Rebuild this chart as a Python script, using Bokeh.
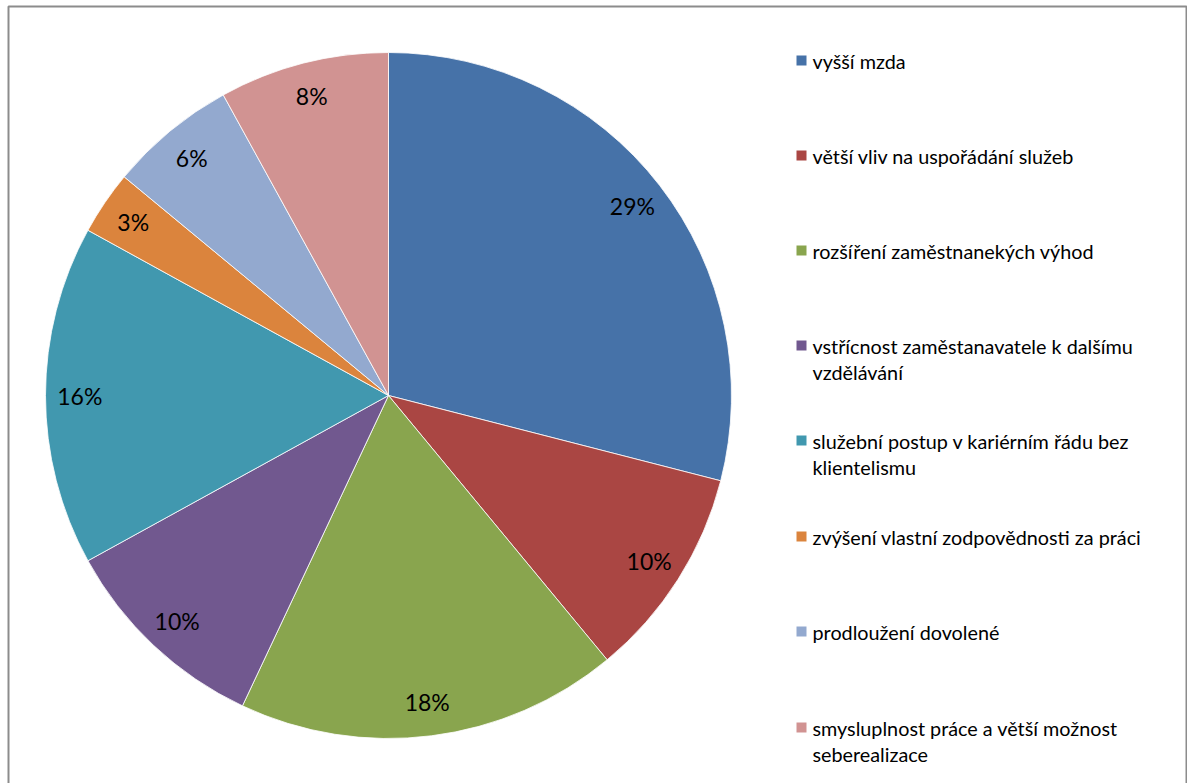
import math

from bokeh.core.properties import value
from bokeh.embed import file_html
from bokeh.models import ColumnDataSource, Range1d
from bokeh.plotting import figure
from bokeh.resources import INLINE

# Survey answers and their shares (percent)
categories = [
    "vyšší mzda",
    "větší vliv na uspořádání služeb",
    "rozšíření zaměstnanekých výhod",
    "vstřícnost zaměstanavatele k dalšímu\nvzdělávání",
    "služební postup v kariérním řádu bez\nklientelismu",
    "zvýšení vlastní zodpovědnosti za práci",
    "prodloužení dovolené",
    "smysluplnost práce a větší možnost\nseberealizace",
]
shares = [29, 10, 18, 10, 16, 3, 6, 8]
colors = ["#4672A8", "#AA4643", "#89A54E", "#71588F",
          "#4198AF", "#DB843D", "#93A9CF", "#D19392"]

W, H = 1187, 783
FONT = "Lato"

# pie geometry in page pixels (y measured from the top)
CX, CY, R = 388, 395, 343
LABEL_R = 0.9 * R

# legend layout (y of each marker centre, from the top)
LEG_SQ_X = 801
LEG_TEXT_X = 812
LEG_Y = [60, 155, 250, 345, 440, 536, 631, 727]
LINE_STEP = 26
BASE_SHIFT = 0


def sy(y):
    return H - y


total = float(sum(shares))
starts, ends, cum = [], [], 0.0
for v in shares:
    starts.append(math.pi / 2 - 2 * math.pi * cum / total)
    cum += v
    ends.append(math.pi / 2 - 2 * math.pi * cum / total)

mids = [(a + b) / 2 for a, b in zip(starts, ends)]
slices = ColumnDataSource(dict(
    start=starts, end=ends, color=colors,
    lx=[CX + LABEL_R * math.cos(m) for m in mids],
    ly=[sy(CY) + LABEL_R * math.sin(m) for m in mids],
    label=[f"{v}%" for v in shares],
))

p = figure(width=W, height=H, x_range=Range1d(0, W), y_range=Range1d(0, H),
           min_border=0, toolbar_location=None, output_backend="svg",
           x_axis_location=None, y_axis_location=None,
           outline_line_color=None, background_fill_color="white",
           border_fill_color="white")
p.grid.visible = False

# chart frame
p.quad(left=8, right=1186, top=sy(6), bottom=-20, fill_color=None,
       line_color="#8c8c8c", line_width=2)

p.wedge(x=CX, y=sy(CY), radius=R, start_angle="start", end_angle="end",
        direction="clock", fill_color="color", line_color="white",
        line_width=1, line_alpha=0.8, source=slices)

p.text(x="lx", y="ly", text="label", source=slices,
       text_font=value(FONT), text_font_size="23px", text_color="black",
       text_align="center", text_baseline="middle")

# legend
sq_y, tx, ty, tt = [], [], [], []
for cat, yc in zip(categories, LEG_Y):
    sq_y.append(sy(yc))
    for j, line in enumerate(cat.split("\n")):
        tx.append(LEG_TEXT_X)
        ty.append(sy(yc + BASE_SHIFT + j * LINE_STEP))
        tt.append(line)

p.rect(x=LEG_SQ_X, y=sq_y, width=10, height=10, fill_color=colors,
       line_color=None)
p.text(x=tx, y=ty, text=tt, text_font=value(FONT), text_font_size="19.8px",
       text_color="black", text_align="left", text_baseline="alphabetic")

open("out.html", "w").write(file_html(p, INLINE))
